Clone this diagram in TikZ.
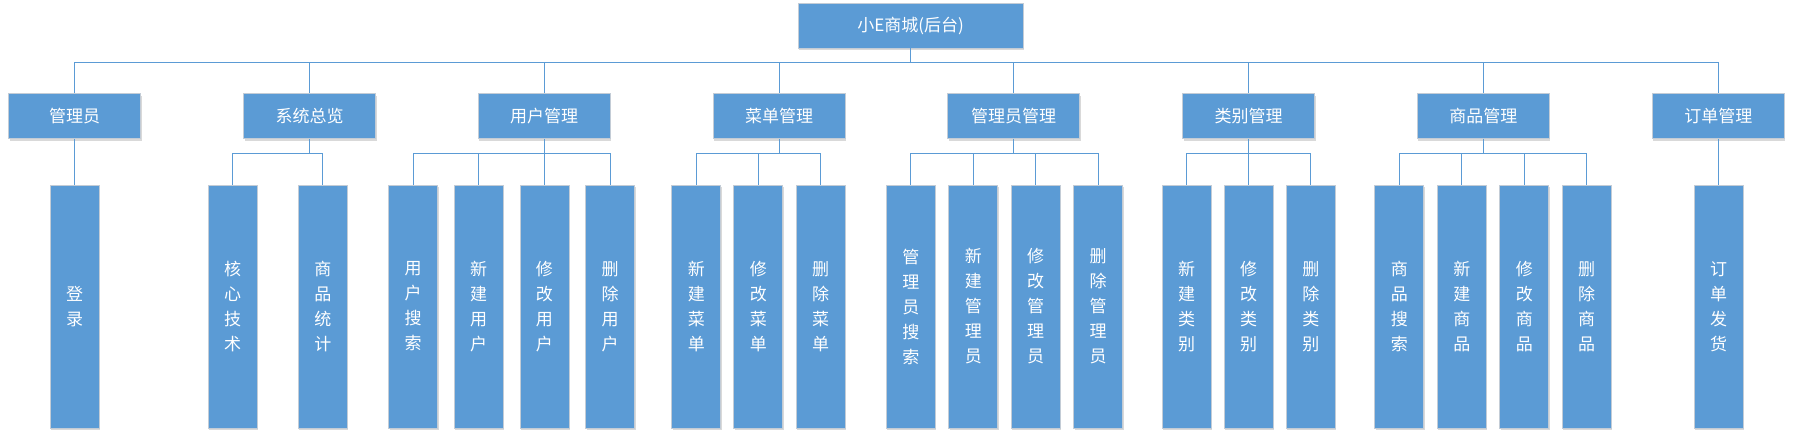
\documentclass[tikz,border=0pt]{standalone}
\usepackage{fontspec}
\setmainfont{Noto Sans CJK SC}
\usetikzlibrary{shadows}

\definecolor{orgblue}{HTML}{5B9BD5}
\definecolor{orgedge}{HTML}{C3CCD6}

\tikzset{
  modbox/.style={fill=orgblue, draw=orgedge, line width=0.8pt, text=white,
    minimum width=132pt, minimum height=45pt, inner sep=0pt,
    font=\fontsize{17}{20}\selectfont,
    drop shadow={shadow xshift=1pt, shadow yshift=-2pt, opacity=0.15, fill=black}},
  funcbox/.style={modbox, minimum width=49pt, minimum height=243pt,
    align=center, font=\fontsize{17}{25}\selectfont},
  link/.style={draw=orgblue, line width=0.9pt},
}

\begin{document}
\begin{tikzpicture}[x=1pt, y=-1pt]
  \useasboundingbox (0,0) rectangle (1794,439);

  % root
  \node[modbox, minimum width=225pt] (root) at (910.5,25.5) {小E商城(后台)};

  % modules
  \node[modbox] (m1) at (74.6,116) {管理员};
  \node[modbox] (m2) at (309.6,116) {系统总览};
  \node[modbox] (m3) at (544.2,116) {用户管理};
  \node[modbox] (m4) at (779.1,116) {菜单管理};
  \node[modbox] (m5) at (1013.7,116) {管理员管理};
  \node[modbox] (m6) at (1248.7,116) {类别管理};
  \node[modbox] (m7) at (1483.3,116) {商品管理};
  \node[modbox] (m8) at (1718.3,116) {订单管理};

  % functions
  \node[funcbox] (m1-1) at (74.6,306.5) {登\\录};

  \node[funcbox] (m2-1) at (232.7,306.5) {核\\心\\技\\术};
  \node[funcbox] (m2-2) at (322.8,306.5) {商\\品\\统\\计};

  \node[funcbox] (m3-1) at (413.1,306.5) {用\\户\\搜\\索};
  \node[funcbox] (m3-2) at (478.6,306.5) {新\\建\\用\\户};
  \node[funcbox] (m3-3) at (544.4,306.5) {修\\改\\用\\户};
  \node[funcbox] (m3-4) at (610,306.5) {删\\除\\用\\户};

  \node[funcbox] (m4-1) at (696.3,306.5) {新\\建\\菜\\单};
  \node[funcbox] (m4-2) at (758.3,306.5) {修\\改\\菜\\单};
  \node[funcbox] (m4-3) at (820.6,306.5) {删\\除\\菜\\单};

  \node[funcbox] (m5-1) at (910.9,306.5) {管\\理\\员\\搜\\索};
  \node[funcbox] (m5-2) at (973.3,306.5) {新\\建\\管\\理\\员};
  \node[funcbox] (m5-3) at (1035.7,306.5) {修\\改\\管\\理\\员};
  \node[funcbox] (m5-4) at (1098.1,306.5) {删\\除\\管\\理\\员};

  \node[funcbox] (m6-1) at (1186.6,306.5) {新\\建\\类\\别};
  \node[funcbox] (m6-2) at (1248.7,306.5) {修\\改\\类\\别};
  \node[funcbox] (m6-3) at (1310.9,306.5) {删\\除\\类\\别};

  \node[funcbox] (m7-1) at (1399.3,306.5) {商\\品\\搜\\索};
  \node[funcbox] (m7-2) at (1461.9,306.5) {新\\建\\商\\品};
  \node[funcbox] (m7-3) at (1524.3,306.5) {修\\改\\商\\品};
  \node[funcbox] (m7-4) at (1586.5,306.5) {删\\除\\商\\品};

  \node[funcbox] (m8-1) at (1718.5,306.5) {订\\单\\发\\货};

  % links
  \path (root.south) ++(0,14) coordinate (bus);
  \draw[link] (root.south) -- (bus);
  \foreach \m in {m1,m2,m3,m4,m5,m6,m7,m8}
    \draw[link] (bus) -| (\m.north);

  \foreach \p/\n in {m1/1, m2/2, m3/4, m4/3, m5/4, m6/3, m7/4, m8/1} {
    \path (\p.south) ++(0,14.5) coordinate (\p-bus);
    \draw[link] (\p.south) -- (\p-bus);
    \foreach \k in {1,...,\n}
      \draw[link] (\p-bus) -| (\p-\k.north);
  }
\end{tikzpicture}
\end{document}
